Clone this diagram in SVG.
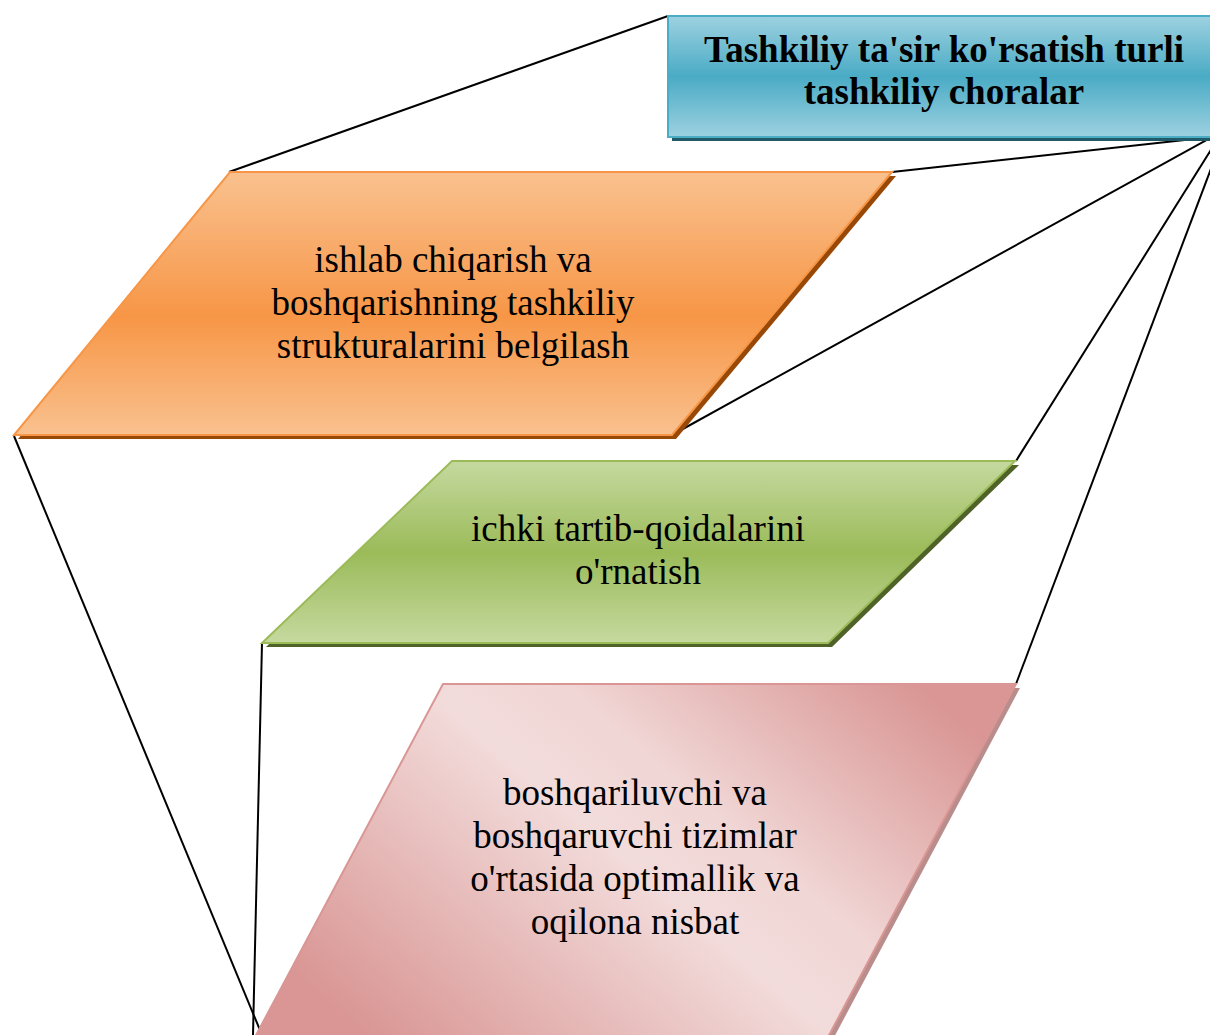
<svg xmlns="http://www.w3.org/2000/svg" width="1210" height="1035" viewBox="0 0 1210 1035">
<defs>
<linearGradient id="gBlue" x1="0" y1="0" x2="0" y2="1">
<stop offset="0" stop-color="#9dd1e0"/><stop offset="0.5" stop-color="#4aabc5"/><stop offset="1" stop-color="#9dd1e0"/>
</linearGradient>
<linearGradient id="gOrange" x1="0" y1="0" x2="0" y2="1">
<stop offset="0" stop-color="#f9c18f"/><stop offset="0.55" stop-color="#f79646"/><stop offset="1" stop-color="#f9c18f"/>
</linearGradient>
<linearGradient id="gGreen" x1="0" y1="0" x2="0" y2="1">
<stop offset="0" stop-color="#c5d99f"/><stop offset="0.5" stop-color="#9bbb59"/><stop offset="1" stop-color="#c5d99f"/>
</linearGradient>
<linearGradient id="gPink" gradientUnits="userSpaceOnUse" x1="389" y1="1154" x2="883" y2="576">
<stop offset="0.1" stop-color="#d99694"/><stop offset="0.5" stop-color="#f2dcdb"/><stop offset="0.62" stop-color="#f0d6d5"/><stop offset="0.92" stop-color="#d99694"/>
</linearGradient>
<style>
.t{font-family:"Liberation Serif","Times New Roman",serif;font-size:37px;fill:#000;text-anchor:middle}
.b{font-weight:bold}
.ln{stroke:#000;stroke-width:2;fill:none}
</style>
</defs>
<g id="connectors">
<line class="ln" x1="229" y1="172" x2="668" y2="16"/>
<line class="ln" x1="892" y1="172" x2="1212" y2="137"/>
<line class="ln" x1="672" y1="435" x2="1212" y2="137"/>
<line class="ln" x1="1016" y1="461" x2="1219" y2="137"/>
<line class="ln" x1="1016" y1="684" x2="1223" y2="137"/>
<line class="ln" x1="14" y1="436" x2="262" y2="1035"/>
<line class="ln" x1="262" y1="643" x2="253" y2="1035"/>
</g>
<g id="title">
<rect x="672" y="20" width="560" height="121" fill="#215967"/>
<rect x="668" y="16" width="560" height="121" fill="url(#gBlue)" stroke="#4bacc6" stroke-width="2"/>
<text class="t b" x="944" y="62">Tashkiliy ta'sir ko'rsatish turli</text>
<text class="t b" x="944" y="104">tashkiliy choralar</text>
</g>
<g id="node1">
<polygon points="234,176 896,176 676,439 18,439" fill="#984807"/>
<polygon points="230,172 892,172 672,435 14,435" fill="url(#gOrange)" stroke="#f79646" stroke-width="2"/>
<text class="t" x="453" y="272">ishlab chiqarish va</text>
<text class="t" x="453" y="315">boshqarishning tashkiliy</text>
<text class="t" x="453" y="358">strukturalarini belgilash</text>
</g>
<g id="node2">
<polygon points="456,465 1019,465 832,647 266,647" fill="#4f6228"/>
<polygon points="452,461 1015,461 828,643 262,643" fill="url(#gGreen)" stroke="#9bbb59" stroke-width="2"/>
<text class="t" x="638" y="541">ichki tartib-qoidalarini</text>
<text class="t" x="638" y="584">o'rnatish</text>
</g>
<g id="node3">
<polygon points="447,688 1020,688 790,1120 217,1120" fill="#b98d8c"/>
<polygon points="443,684 1016,684 786,1116 213,1116" fill="url(#gPink)" stroke="#d99694" stroke-width="2"/>
<text class="t" x="635" y="805">boshqariluvchi va</text>
<text class="t" x="635" y="848">boshqaruvchi tizimlar</text>
<text class="t" x="635" y="891">o'rtasida optimallik va</text>
<text class="t" x="635" y="934">oqilona nisbat</text>
</g>
</svg>
